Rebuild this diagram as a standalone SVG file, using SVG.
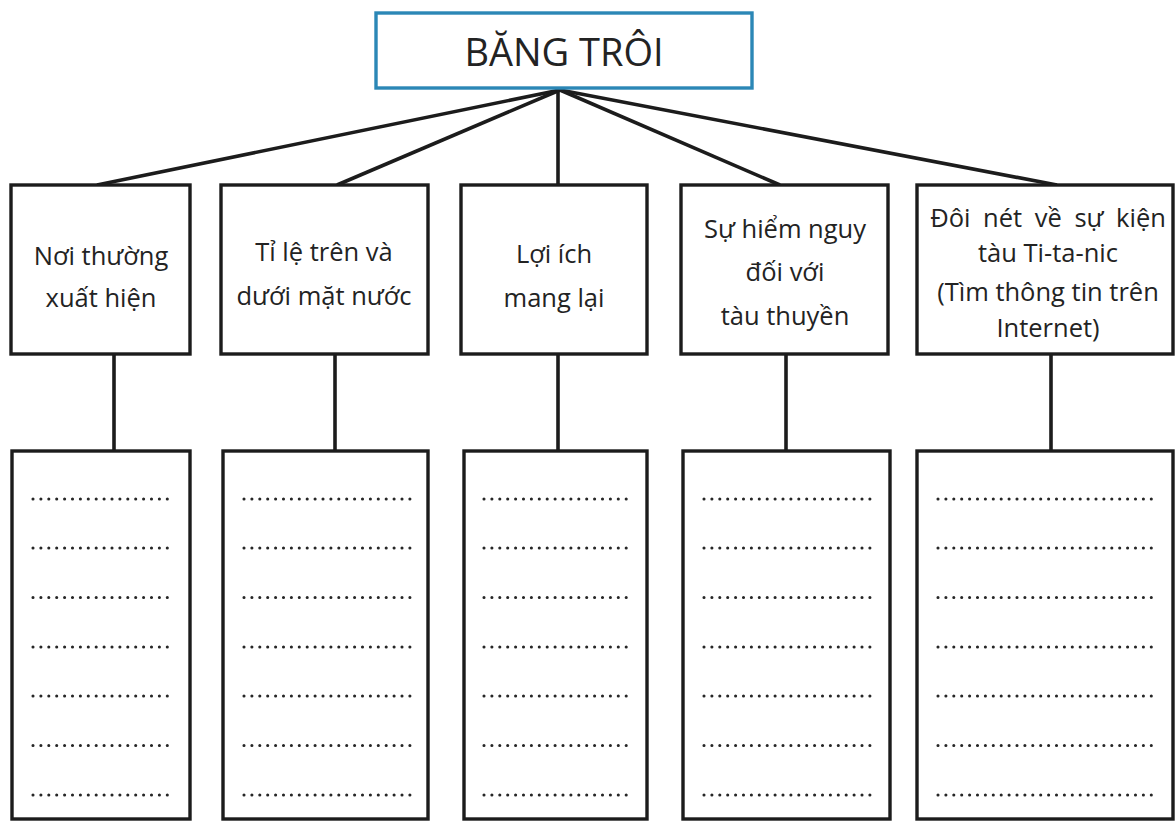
<svg xmlns="http://www.w3.org/2000/svg" width="1176" height="821" viewBox="0 0 1176 821">
<style>
.bg{fill:#fff}
.box{fill:#fff;stroke:#1c1c1c;stroke-width:3.4}
.title{fill:#fff;stroke:#2b87b6;stroke-width:3.4}
.t{font-family:"Open Sans","Noto Sans","DejaVu Sans",sans-serif;font-size:25.5px;fill:#232323;text-anchor:middle}
.tt{font-family:"Open Sans","Noto Sans","DejaVu Sans",sans-serif;font-size:38px;fill:#232323;text-anchor:middle}
.dots{stroke:#262626;stroke-width:3.1;stroke-linecap:round;stroke-dasharray:0 7.9}
.conn{stroke:#1c1c1c;stroke-width:3.6;fill:none}
</style>
<rect class="bg" x="0" y="0" width="1176" height="821"/>
<g id="connectors">
<line class="conn" x1="560" y1="90" x2="97" y2="185"/>
<line class="conn" x1="560" y1="90" x2="337" y2="185"/>
<line class="conn" x1="558" y1="90" x2="558" y2="185"/>
<line class="conn" x1="560" y1="90" x2="780" y2="185"/>
<line class="conn" x1="560" y1="90" x2="1057" y2="185"/>
<line class="conn" x1="114" y1="354" x2="114" y2="451"/>
<line class="conn" x1="335" y1="354" x2="335" y2="451"/>
<line class="conn" x1="558" y1="354" x2="558" y2="451"/>
<line class="conn" x1="786" y1="354" x2="786" y2="451"/>
<line class="conn" x1="1051" y1="354" x2="1051" y2="451"/>
</g>
<g id="root">
<rect class="title" x="376" y="13" width="376" height="75"/>
<text class="tt" x="564" y="66">BĂNG TRÔI</text>
</g>
<g id="n1">
<rect class="box" x="11" y="185" width="179" height="169"/>
<text class="t" x="101" y="265">Nơi thường</text>
<text class="t" x="101" y="307">xuất hiện</text>
</g>
<g id="n2">
<rect class="box" x="221" y="185" width="207" height="169"/>
<text class="t" x="324" y="261">Tỉ lệ trên và</text>
<text class="t" x="324" y="305">dưới mặt nước</text>
</g>
<g id="n3">
<rect class="box" x="461" y="185" width="186" height="169"/>
<text class="t" x="554" y="263">Lợi ích</text>
<text class="t" x="554" y="307">mang lại</text>
</g>
<g id="n4">
<rect class="box" x="681" y="185" width="207" height="169"/>
<text class="t" x="785" y="238">Sự hiểm nguy</text>
<text class="t" x="785" y="281">đối với</text>
<text class="t" x="785" y="325">tàu thuyền</text>
</g>
<g id="n5">
<rect class="box" x="917" y="185" width="256" height="169"/>
<text class="t" x="1048" y="227" word-spacing="6">Đôi nét về sự kiện</text>
<text class="t" x="1048" y="262">tàu Ti-ta-nic</text>
<text class="t" x="1048" y="301">(Tìm thông tin trên</text>
<text class="t" x="1048" y="337">Internet)</text>
</g>
<g id="b1">
<rect class="box" x="12" y="451" width="178" height="368"/>
<path class="dots" d="M33 499H171M33 548H171M33 597.5H171M33 647H171M33 696H171M33 745.5H171M33 795H171"/>
</g>
<g id="b2">
<rect class="box" x="223" y="451" width="205" height="368"/>
<path class="dots" d="M244 499H410M244 548H410M244 597.5H410M244 647H410M244 696H410M244 745.5H410M244 795H410"/>
</g>
<g id="b3">
<rect class="box" x="464" y="451" width="183" height="368"/>
<path class="dots" d="M484 499H627M484 548H627M484 597.5H627M484 647H627M484 696H627M484 745.5H627M484 795H627"/>
</g>
<g id="b4">
<rect class="box" x="683" y="451" width="207" height="368"/>
<path class="dots" d="M704 499H870M704 548H870M704 597.5H870M704 647H870M704 696H870M704 745.5H870M704 795H870"/>
</g>
<g id="b5">
<rect class="box" x="917" y="451" width="256" height="368"/>
<path class="dots" d="M938 499H1157M938 548H1157M938 597.5H1157M938 647H1157M938 696H1157M938 745.5H1157M938 795H1157"/>
</g>
</svg>
